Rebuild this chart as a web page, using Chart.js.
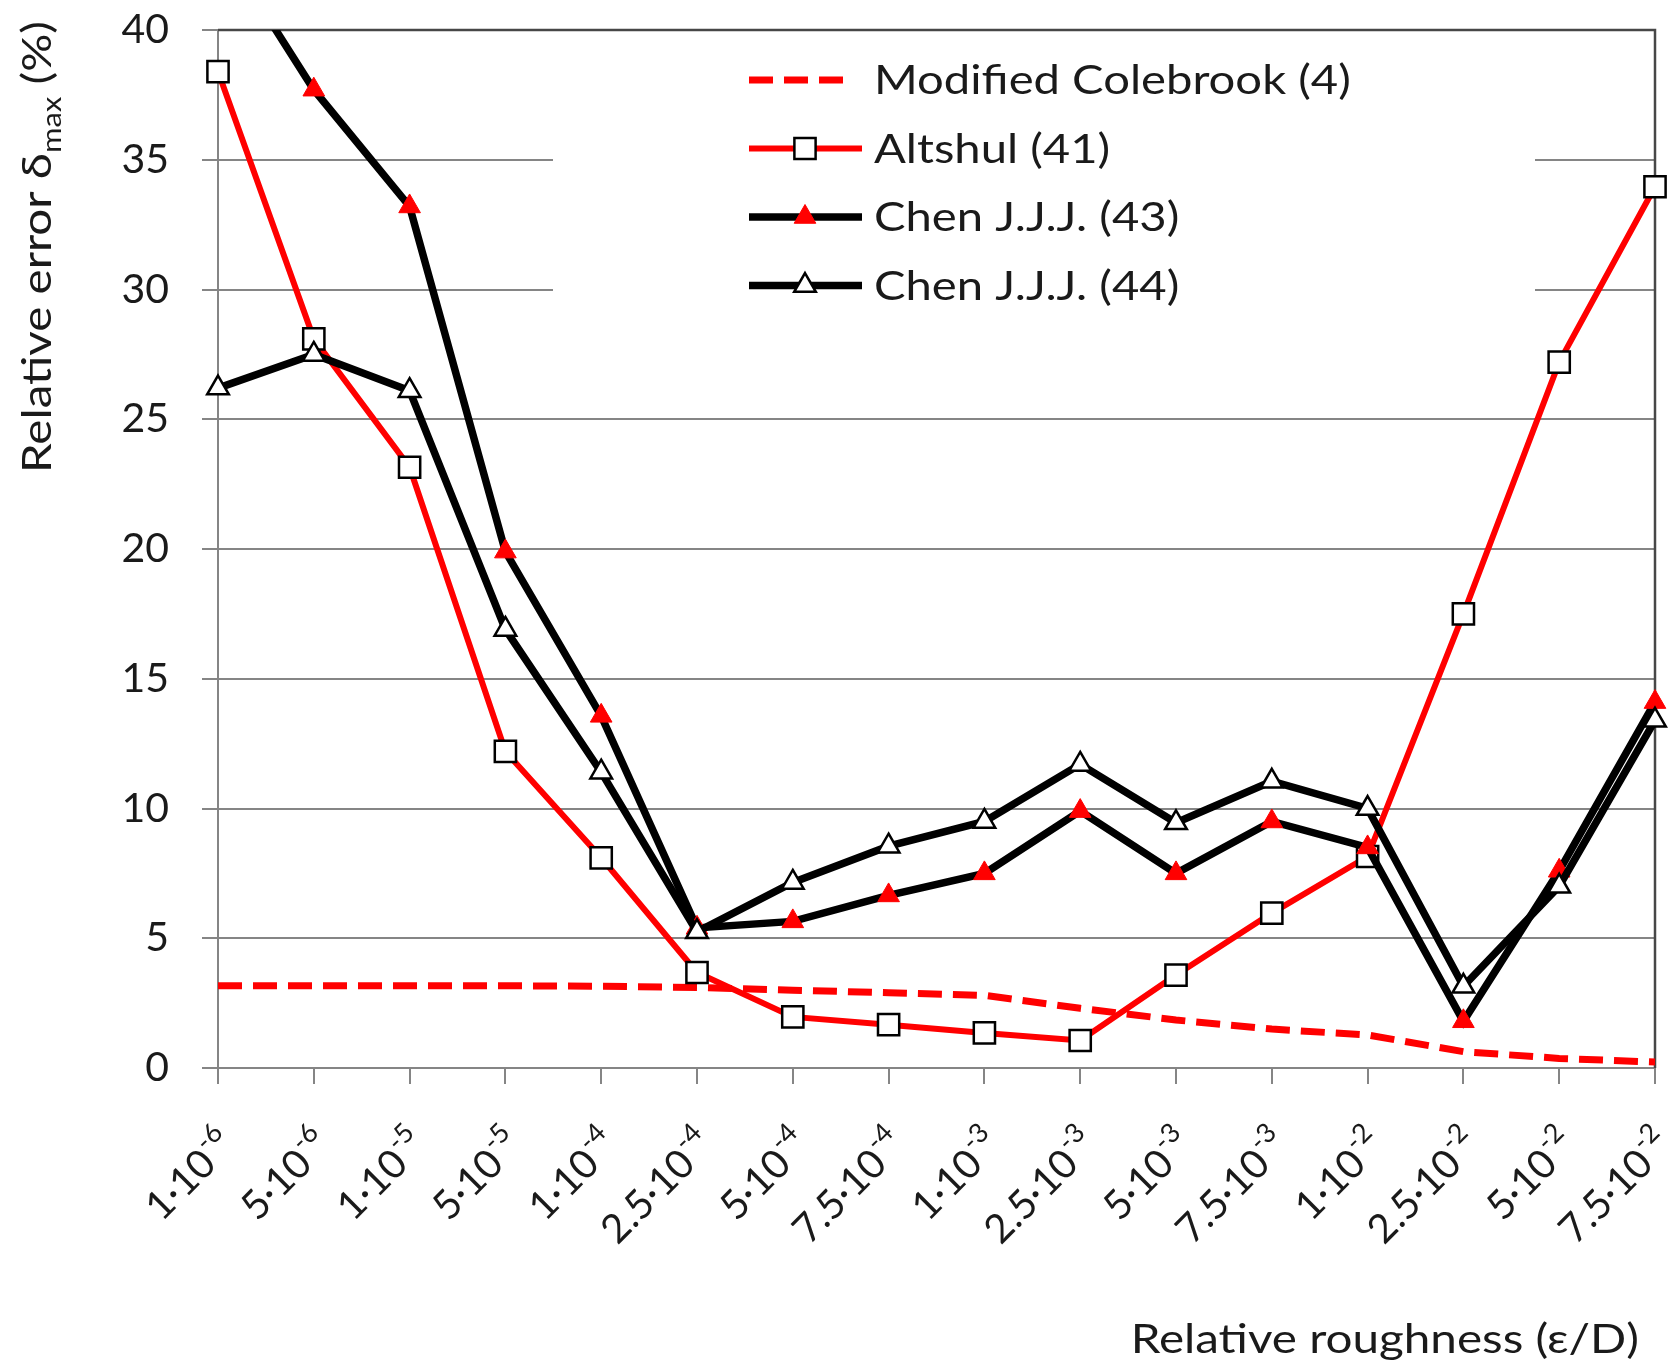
<!DOCTYPE html>
<html>
<head>
<meta charset="utf-8">
<title>Relative error vs relative roughness</title>
<script src="https://cdn.jsdelivr.net/npm/chart.js@4.4.1/dist/chart.umd.min.js"></script>
<style>
  html, body { margin: 0; padding: 0; background: #ffffff; }
  canvas { display: block; }
</style>
</head>
<body>
<canvas id="chart" width="1673" height="1367"></canvas>
<script>
// Relative roughness categories (x axis)
const categories = [
  '1·10⁻⁶', '5·10⁻⁶', '1·10⁻⁵', '5·10⁻⁵', '1·10⁻⁴', '2.5·10⁻⁴', '5·10⁻⁴', '7.5·10⁻⁴',
  '1·10⁻³', '2.5·10⁻³', '5·10⁻³', '7.5·10⁻³', '1·10⁻²', '2.5·10⁻²', '5·10⁻²', '7.5·10⁻²'
];

// Maximal relative error (%) of each approximation
const modifiedColebrook = [3.17, 3.17, 3.17, 3.17, 3.15, 3.1, 3.0, 2.9, 2.8, 2.3, 1.85, 1.5, 1.27, 0.63, 0.37, 0.23];
const altshul           = [38.4, 28.1, 23.15, 12.2, 8.1, 3.68, 1.97, 1.67, 1.35, 1.06, 3.58, 5.97, 8.15, 17.5, 27.2, 33.96];
const chen43            = [43.5, 37.7, 33.2, 19.9, 13.57, 5.4, 5.65, 6.65, 7.5, 9.9, 7.5, 9.5, 8.5, 1.8, 7.6, 14.1];
const chen44            = [26.2, 27.5, 26.1, 16.9, 11.4, 5.25, 7.15, 8.55, 9.5, 11.7, 9.45, 11.05, 10.0, 3.15, 7.0, 13.4];

// Y axis range and tick step
const yMin = 0;
const yMax = 40;
const yStep = 5;

const seriesLabels = ['Modified Colebrook (4)', 'Altshul (41)', 'Chen J.J.J. (43)', 'Chen J.J.J. (44)'];

const FONT = 'Lato, "DejaVu Sans", sans-serif';
const TEXT = '#1a1a1a';
const GRID = '#858585';
const RED = '#ff0000';

Chart.defaults.font.family = FONT;
Chart.defaults.color = TEXT;

// Splits "2.5·10⁻⁴" into the base "2.5·10" and the exponent "-4"
const SUPERSCRIPT = { '⁻': '-', '⁰': '0', '¹': '1', '²': '2', '³': '3', '⁴': '4', '⁵': '5', '⁶': '6', '⁷': '7', '⁸': '8', '⁹': '9' };
function splitPower(label) {
  const k = label.indexOf('10') + 2;
  const exponent = Array.from(label.slice(k)).map(ch => SUPERSCRIPT[ch] || ch).join('');
  return [label.slice(0, k), exponent];
}

// Top and right edges of the plot area
const plotFrame = {
  id: 'plotFrame',
  beforeDatasetsDraw(chart) {
    const { ctx, chartArea: a } = chart;
    ctx.save();
    ctx.strokeStyle = '#474747';
    ctx.lineWidth = 2.5;
    ctx.beginPath();
    ctx.moveTo(a.left, a.top);
    ctx.lineTo(a.right, a.top);
    ctx.lineTo(a.right, a.bottom);
    ctx.stroke();
    ctx.restore();
  }
};

// Rotated category labels with raised exponents, placed at the x scale's ticks
const powerTickLabels = {
  id: 'powerTickLabels',
  afterDraw(chart, args, opts) {
    const scale = chart.scales.x;
    const ctx = chart.ctx;
    ctx.save();
    ctx.fillStyle = TEXT;
    ctx.textBaseline = 'middle';
    ctx.textAlign = 'right';
    scale.ticks.forEach((tick, i) => {
      const [base, exponent] = splitPower(chart.data.labels[i]);
      const x = scale.getPixelForTick(i) + opts.dx;
      const y = scale.top + opts.dy;
      ctx.save();
      ctx.translate(x, y);
      ctx.rotate(-Math.PI / 4);
      ctx.font = opts.supSize + 'px ' + FONT;
      const wSup = ctx.measureText(exponent).width;
      ctx.fillText(exponent, 0, opts.supShift);
      ctx.font = opts.size + 'px ' + FONT;
      ctx.fillText(base, -wSup - 1, 0);
      ctx.restore();
    });
    ctx.restore();
  }
};

// Legend box placed inside the plot, drawn with each dataset's own styles
const insideLegend = {
  id: 'insideLegend',
  afterDatasetsDraw(chart, args, opts) {
    const ctx = chart.ctx;
    ctx.save();
    ctx.fillStyle = '#ffffff';
    ctx.fillRect(opts.boxLeft, opts.boxTop, opts.boxWidth, opts.boxHeight);
    chart.data.datasets.forEach((ds, i) => {
      const y = opts.firstRow + i * opts.rowGap;
      // line sample
      ctx.save();
      ctx.strokeStyle = ds.borderColor;
      ctx.lineWidth = ds.borderWidth;
      ctx.setLineDash(ds.borderDash || []);
      ctx.beginPath();
      const end = ds.borderDash ? opts.lineStart + opts.dashLength : opts.lineEnd;
      ctx.moveTo(opts.lineStart, y);
      ctx.lineTo(end, y);
      ctx.stroke();
      ctx.restore();
      // marker sample
      if (ds.pointRadius > 0) {
        ctx.save();
        ctx.fillStyle = ds.pointBackgroundColor;
        ctx.strokeStyle = ds.pointBorderColor;
        ctx.lineWidth = ds.pointBorderWidth;
        Chart.helpers.drawPoint(ctx, {
          pointStyle: ds.pointStyle,
          radius: ds.pointRadius,
          rotation: 0,
          borderWidth: ds.pointBorderWidth
        }, opts.markerX, y);
        ctx.restore();
      }
      // text
      ctx.save();
      ctx.translate(opts.textX, y + opts.baselineShift);
      ctx.scale(opts.stretch, 1);
      ctx.fillStyle = TEXT;
      ctx.font = opts.fontSize + 'px ' + FONT;
      ctx.textAlign = 'left';
      ctx.textBaseline = 'alphabetic';
      ctx.fillText(ds.label, 0, 0);
      ctx.restore();
    });
    ctx.restore();
  }
};

// Axis titles: y title carries a subscript, x title sits at the lower right
const axisTitles = {
  id: 'axisTitles',
  afterDraw(chart, args, opts) {
    const ctx = chart.ctx;
    ctx.save();
    ctx.fillStyle = TEXT;
    ctx.textBaseline = 'alphabetic';
    ctx.textAlign = 'left';

    // y axis title, rotated, reading upwards
    ctx.save();
    ctx.translate(opts.yTitleX, opts.yTitleStart);
    ctx.rotate(-Math.PI / 2);
    ctx.scale(opts.stretch, 1);
    const big = opts.yFontSize + 'px ' + FONT;
    const small = opts.subSize + 'px ' + FONT;
    let x = 0;
    ctx.font = big;
    const part1 = 'Relative error δ';
    ctx.fillText(part1, x, 0);
    x += ctx.measureText(part1).width;
    ctx.font = small;
    ctx.fillText('max', x, opts.subShift);
    x += ctx.measureText('max').width;
    ctx.font = big;
    ctx.fillText(' (%)', x, 0);
    ctx.restore();

    // x axis title
    ctx.save();
    ctx.translate(opts.xTitleRight, opts.xTitleBaseline);
    ctx.scale(opts.stretch, 1);
    ctx.font = opts.xFontSize + 'px ' + FONT;
    ctx.textAlign = 'right';
    ctx.fillText('Relative roughness (ε/D)', 0, 0);
    ctx.restore();
    ctx.restore();
  }
};

const clipTop = { left: false, top: 0, right: false, bottom: false };

new Chart(document.getElementById('chart'), {
  type: 'line',
  data: {
    labels: categories,
    datasets: [
      {
        label: seriesLabels[0],
        data: modifiedColebrook,
        borderColor: RED,
        borderWidth: 7,
        borderDash: [24, 11],
        pointRadius: 0,
        order: 4,
        clip: clipTop
      },
      {
        label: seriesLabels[1],
        data: altshul,
        borderColor: RED,
        borderWidth: 6,
        pointStyle: 'rect',
        pointRadius: 15,
        pointBackgroundColor: '#ffffff',
        pointBorderColor: '#000000',
        pointBorderWidth: 2.5,
        order: 3,
        clip: clipTop
      },
      {
        label: seriesLabels[2],
        data: chen43,
        borderColor: '#000000',
        borderWidth: 7.5,
        pointStyle: 'triangle',
        pointRadius: 12.5,
        pointBackgroundColor: RED,
        pointBorderColor: RED,
        pointBorderWidth: 1,
        order: 2,
        clip: clipTop
      },
      {
        label: seriesLabels[3],
        data: chen44,
        borderColor: '#000000',
        borderWidth: 7.5,
        pointStyle: 'triangle',
        pointRadius: 12.5,
        pointBackgroundColor: '#ffffff',
        pointBorderColor: '#000000',
        pointBorderWidth: 2.5,
        order: 1,
        clip: clipTop
      }
    ]
  },
  options: {
    responsive: false,
    animation: false,
    devicePixelRatio: 1,
    events: [],
    elements: { line: { tension: 0 } },
    layout: { padding: { top: 30, right: 18, left: 0, bottom: 0 } },
    scales: {
      x: {
        type: 'category',
        offset: false,
        grid: { drawOnChartArea: false, drawTicks: true, tickLength: 16, color: GRID, lineWidth: 2 },
        border: { display: true, color: GRID, width: 2 },
        ticks: { display: false, autoSkip: false },
        afterFit(scale) {
          scale.height = 299;
          scale.paddingLeft = 0;
          scale.paddingRight = 0;
        }
      },
      y: {
        min: yMin,
        max: yMax,
        grid: { color: GRID, lineWidth: 2, tickLength: 16 },
        border: { display: true, color: GRID, width: 2 },
        ticks: { stepSize: yStep, padding: 33, color: TEXT, font: { size: 41 } },
        afterFit(scale) {
          scale.width = 218;
          scale.paddingTop = 0;
          scale.paddingBottom = 0;
        }
      }
    },
    plugins: {
      legend: { display: false },
      tooltip: { enabled: false },
      powerTickLabels: { dx: 10, dy: 70, size: 40, supSize: 27, supShift: -14 },
      insideLegend: {
        boxLeft: 553, boxTop: 38, boxWidth: 982, boxHeight: 292,
        firstRow: 80, rowGap: 68.5,
        lineStart: 749, lineEnd: 862, dashLength: 94, markerX: 805,
        textX: 874, fontSize: 40, baselineShift: 14, stretch: 1.18
      },
      axisTitles: {
        yFontSize: 40, xFontSize: 40, subSize: 26, subShift: 10, stretch: 1.19,
        yTitleX: 51, yTitleStart: 473,
        xTitleRight: 1639, xTitleBaseline: 1353
      }
    }
  },
  plugins: [plotFrame, powerTickLabels, insideLegend, axisTitles]
});
</script>
</body>
</html>
